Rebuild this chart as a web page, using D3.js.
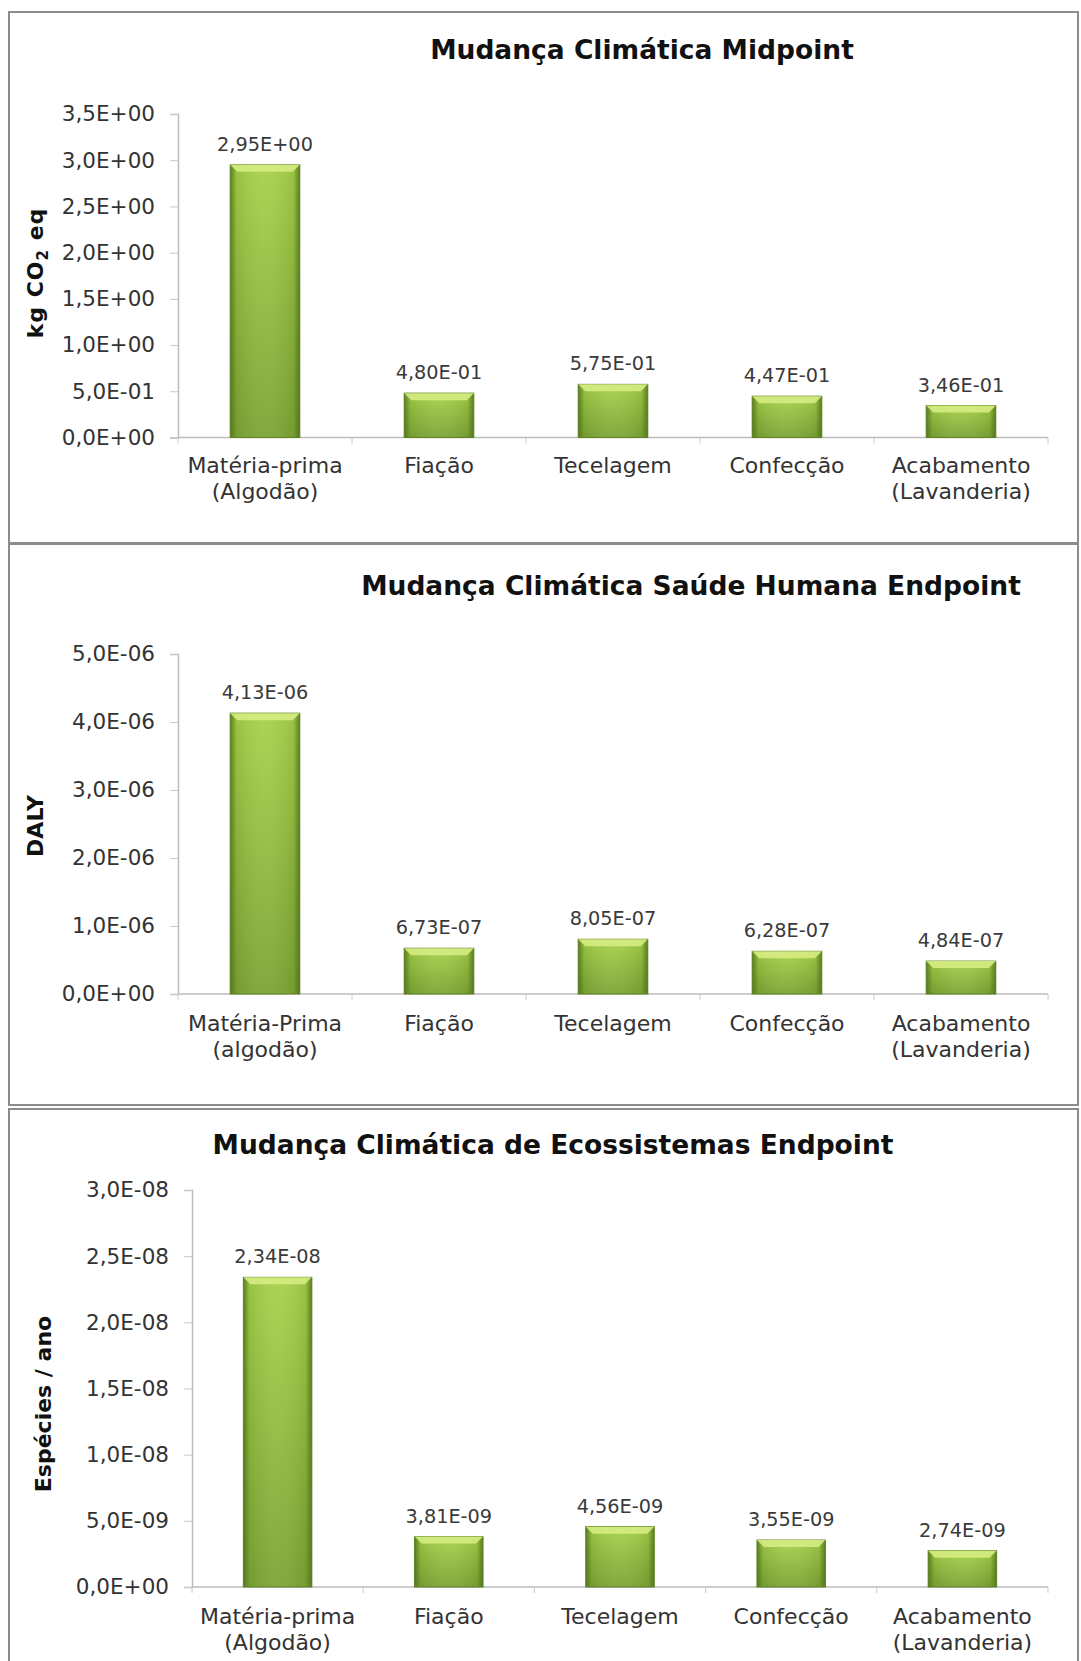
<!DOCTYPE html>
<html>
<head>
<meta charset="utf-8">
<script src="https://cdn.jsdelivr.net/npm/d3@7/dist/d3.min.js"></script>
<style>
  html, body { margin: 0; padding: 0; background: #ffffff; }
  svg { display: block; }
  text { font-family: "DejaVu Sans", "Liberation Sans", sans-serif; }
</style>
</head>
<body>
<svg id="chart" width="1081" height="1661"></svg>
<script>
// ---- Data -------------------------------------------------------------
const stagesA = [["Matéria-prima", "(Algodão)"], ["Fiação"], ["Tecelagem"], ["Confecção"], ["Acabamento", "(Lavanderia)"]];
const stagesB = [["Matéria-Prima", "(algodão)"], ["Fiação"], ["Tecelagem"], ["Confecção"], ["Acabamento", "(Lavanderia)"]];

const midpointValues = [2.95, 0.480, 0.575, 0.447, 0.346];
const healthValues   = [4.13e-6, 6.73e-7, 8.05e-7, 6.28e-7, 4.84e-7];
const ecoValues      = [2.34e-8, 3.81e-9, 4.56e-9, 3.55e-9, 2.74e-9];

const midpointTicks = [0, 0.5, 1.0, 1.5, 2.0, 2.5, 3.0, 3.5];
const healthTicks   = [0, 1e-6, 2e-6, 3e-6, 4e-6, 5e-6];
const ecoTicks      = [0, 5e-9, 1e-8, 1.5e-8, 2e-8, 2.5e-8, 3e-8];

const titles = [
  "Mudança Climática Midpoint",
  "Mudança Climática Saúde Humana Endpoint",
  "Mudança Climática de Ecossistemas Endpoint"
];

// ---- Helpers ----------------------------------------------------------
// Scientific notation with a decimal comma and two-digit exponent: 2,95E+00
function sci(v, digits) {
  if (v === 0) return (0).toFixed(digits).replace(".", ",") + "E+00";
  const [m, e] = v.toExponential(digits).split("e");
  const n = parseInt(e, 10);
  const sign = n < 0 ? "-" : "+";
  return m.replace(".", ",") + "E" + sign + String(Math.abs(n)).padStart(2, "0");
}

const svg = d3.select("#chart");
const defs = svg.append("defs");

// Bar shading: vertical body gradient, darker side edges and a light top bevel
const body = defs.append("linearGradient").attr("id", "barBody")
  .attr("x1", 0).attr("y1", 0).attr("x2", 0).attr("y2", 1);
body.append("stop").attr("offset", "0%").attr("stop-color", "#a6d24a");
body.append("stop").attr("offset", "100%").attr("stop-color", "#7aa333");

const sides = defs.append("linearGradient").attr("id", "barSides")
  .attr("x1", 0).attr("y1", 0).attr("x2", 1).attr("y2", 0);
sides.append("stop").attr("offset", "0%").attr("stop-color", "#4e6e1a").attr("stop-opacity", 0.85);
sides.append("stop").attr("offset", "9%").attr("stop-color", "#4e6e1a").attr("stop-opacity", 0.15);
sides.append("stop").attr("offset", "50%").attr("stop-color", "#ffffff").attr("stop-opacity", 0.06);
sides.append("stop").attr("offset", "91%").attr("stop-color", "#4e6e1a").attr("stop-opacity", 0.15);
sides.append("stop").attr("offset", "100%").attr("stop-color", "#4e6e1a").attr("stop-opacity", 0.85);

// ---- Panel frames -----------------------------------------------------
const frames = [
  { y: 12, h: 531 },
  { y: 544, h: 561 },
  { y: 1109, h: 600 }
];
svg.selectAll("rect.frame").data(frames).join("rect")
  .attr("class", "frame")
  .attr("x", 9).attr("y", d => d.y)
  .attr("width", 1069).attr("height", d => d.h)
  .attr("fill", "none").attr("stroke", "#8c8c8c").attr("stroke-width", 2);

// ---- Panels -----------------------------------------------------------
const panels = [
  {
    title: titles[0], titleX: 642, titleY: 59,
    stages: stagesA, values: midpointValues, ticks: midpointTicks, tickDigits: 1,
    domain: [0, 3.5], x0: 178, x1: 1048, yBase: 437.5, yTop: 114,
    catY: 473, yTitle: "kg CO2 eq", yTitleX: 43, yTitleY: 273
  },
  {
    title: titles[1], titleX: 691, titleY: 595,
    stages: stagesB, values: healthValues, ticks: healthTicks, tickDigits: 1,
    domain: [0, 5e-6], x0: 178, x1: 1048, yBase: 994, yTop: 654,
    catY: 1031, yTitle: "DALY", yTitleX: 43, yTitleY: 826
  },
  {
    title: titles[2], titleX: 553, titleY: 1154,
    stages: stagesA, values: ecoValues, ticks: ecoTicks, tickDigits: 1,
    domain: [0, 3e-8], x0: 192, x1: 1048, yBase: 1587, yTop: 1190,
    catY: 1624, yTitle: "Espécies / ano", yTitleX: 51, yTitleY: 1404
  }
];

panels.forEach(p => {
  const g = svg.append("g");
  const idx = d3.range(p.values.length);

  const x = d3.scaleBand().domain(idx).range([p.x0, p.x1])
    .paddingInner(0.6).paddingOuter(0.3);
  const y = d3.scaleLinear().domain(p.domain).range([p.yBase, p.yTop]);

  // Title
  g.append("text")
    .attr("x", p.titleX).attr("y", p.titleY)
    .attr("text-anchor", "middle")
    .attr("font-size", 26.5).attr("font-weight", "bold").attr("fill", "#111")
    .text(p.title);

  // Y axis
  const yAxis = d3.axisLeft(y).tickValues(p.ticks)
    .tickFormat(d => sci(d, p.tickDigits))
    .tickSize(8).tickPadding(15);
  const ya = g.append("g").attr("transform", `translate(${p.x0},0)`).call(yAxis);
  ya.select(".domain").attr("stroke", "#bdbdbd").attr("stroke-width", 1.5);
  ya.selectAll(".tick line").attr("stroke", "#c8c8c8");
  ya.selectAll(".tick text")
    .attr("font-family", "DejaVu Sans, sans-serif")
    .attr("font-size", 21.5).attr("fill", "#333");

  // Y axis title (rotated)
  const yt = g.append("text")
    .attr("transform", `translate(${p.yTitleX},${p.yTitleY}) rotate(-90)`)
    .attr("text-anchor", "middle")
    .attr("font-size", 22).attr("font-weight", "bold").attr("fill", "#111");
  if (p.yTitle === "kg CO2 eq") {
    yt.attr("letter-spacing", 1);
    yt.append("tspan").text("kg CO");
    yt.append("tspan").attr("font-size", 15).attr("dy", 5).text("2");
    yt.append("tspan").attr("dy", -5).text(" eq");
  } else {
    yt.text(p.yTitle);
  }

  // Category baseline with tick marks at band boundaries
  const step = x.step();
  const boundaries = d3.range(p.values.length + 1).map(i => p.x0 + i * step);
  g.append("line")
    .attr("x1", p.x0).attr("x2", p.x1)
    .attr("y1", p.yBase).attr("y2", p.yBase)
    .attr("stroke", "#bdbdbd").attr("stroke-width", 1.5);
  g.selectAll("line.xtick").data(boundaries).join("line")
    .attr("class", "xtick")
    .attr("x1", d => d).attr("x2", d => d)
    .attr("y1", p.yBase).attr("y2", p.yBase + 6)
    .attr("stroke", "#c8c8c8");

  // Bars
  const bars = g.selectAll("g.bar").data(idx).join("g").attr("class", "bar");
  bars.append("rect")
    .attr("x", i => x(i)).attr("y", i => y(p.values[i]))
    .attr("width", x.bandwidth()).attr("height", i => y(0) - y(p.values[i]))
    .attr("fill", "url(#barBody)");
  bars.append("rect")
    .attr("x", i => x(i)).attr("y", i => y(p.values[i]))
    .attr("width", x.bandwidth()).attr("height", i => y(0) - y(p.values[i]))
    .attr("fill", "url(#barSides)")
    .attr("stroke", "#5f8224").attr("stroke-width", 1);
  // top bevel
  bars.append("path")
    .attr("d", i => {
      const l = x(i), r = x(i) + x.bandwidth(), t = y(p.values[i]), b = 7;
      return `M${l},${t} L${r},${t} L${r - b},${t + b} L${l + b},${t + b} Z`;
    })
    .attr("fill", "#d6ec82").attr("opacity", 0.9);

  // Value labels
  g.selectAll("text.value").data(idx).join("text")
    .attr("class", "value")
    .attr("x", i => x(i) + x.bandwidth() / 2)
    .attr("y", i => y(p.values[i]) - 14)
    .attr("text-anchor", "middle")
    .attr("font-size", 19.3).attr("fill", "#3a3a3a")
    .text(i => sci(p.values[i], 2));

  // Category labels
  const cats = g.selectAll("text.cat").data(idx).join("text")
    .attr("class", "cat")
    .attr("text-anchor", "middle")
    .attr("font-size", 22).attr("fill", "#333");
  cats.each(function (i) {
    const t = d3.select(this);
    p.stages[i].forEach((line, k) => {
      t.append("tspan")
        .attr("x", x(i) + x.bandwidth() / 2)
        .attr("y", p.catY + k * 26)
        .text(line);
    });
  });
});
</script>
</body>
</html>
